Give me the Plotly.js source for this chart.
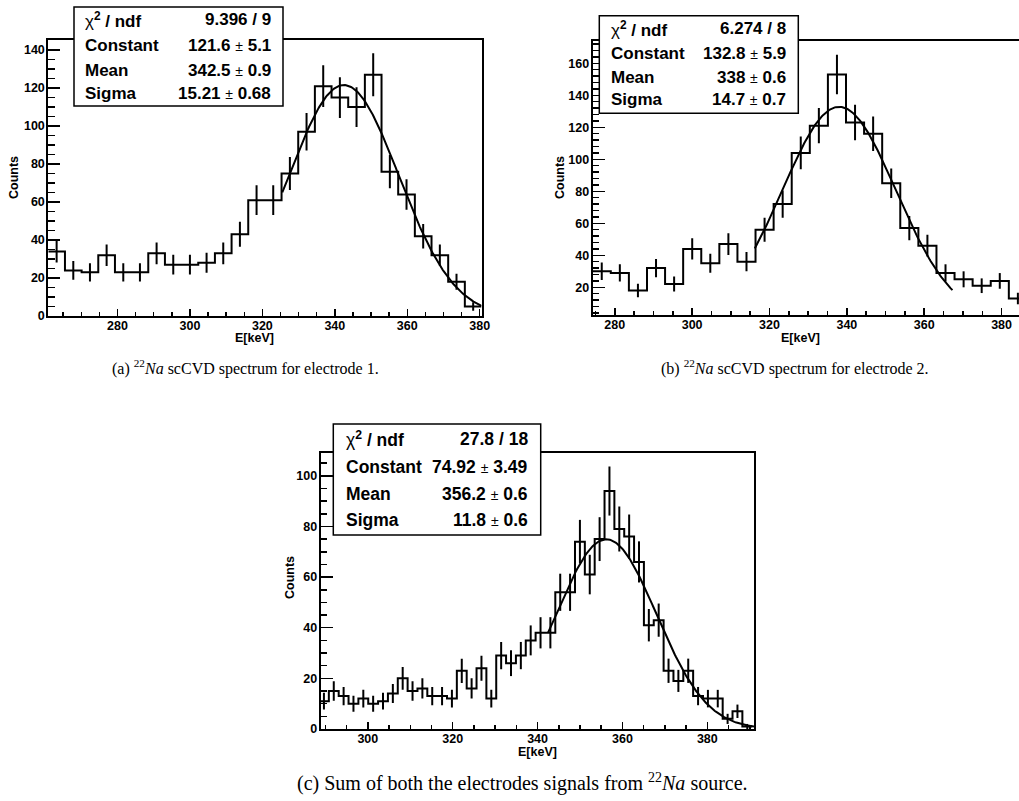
<!DOCTYPE html>
<html>
<head>
<meta charset="utf-8">
<script src="https://cdn.plot.ly/plotly-3.0.1.min.js"></script>
<style>html,body{margin:0;padding:0;background:#fff;}#chart{width:1019px;height:801px;}</style>
</head>
<body>
<div id="chart"></div>
<script>
// ---------------- data ----------------
// Panel (a): electrode 1
const binStartA = 260.9, binWidthA = 4.6;
const countsA = [34,24,23,32,23,23,33,27,27,28,33,43,61,61,75,97,121,115,110,127,76,64,42,32,18,5];
const fitA = {constant:121.6, mean:342.5, sigma:15.21, from:325.5, to:380.5};
const statsA = [["χ² / ndf","9.396 / 9"],["Constant","121.6 ± 5.1"],["Mean","342.5 ± 0.9"],["Sigma","15.21 ± 0.68"]];

// Panel (b): electrode 2
const binStartB = 274.3, binWidthB = 4.677;
const countsB = [30,29,18,32,22,44,35,47,36,56,72,104,121,153,123,116,85,57,46,29,25,21,24,13];
const fitB = {constant:132.8, mean:338, sigma:14.7, from:316.2, to:367.3};
const statsB = [["χ² / ndf","6.274 / 8"],["Constant","132.8 ± 5.9"],["Mean","338 ± 0.6"],["Sigma","14.7 ± 0.7"]];

// Panel (c): sum of both electrodes
const binStartC = 288.5, binWidthC = 2.32;
const countsC = [11,15,13,10,12,10,11,14,20,15,16,13,13,12,23,16,24,12,29,26,29,35,38,38,54,54,74,61,75,94,79,76,66,41,43,23,19,23,13,12,12,4,7,1];
const fitC = {constant:74.92, mean:356.2, sigma:11.8, from:342.5, to:391.0};
const statsC = [["χ² / ndf","27.8 / 18"],["Constant","74.92 ± 3.49"],["Mean","356.2 ± 0.6"],["Sigma","11.8 ± 0.6"]];

const captions = [
  "(a) <sup>22</sup><i>Na</i> scCVD spectrum for electrode 1.",
  "(b) <sup>22</sup><i>Na</i> scCVD spectrum for electrode 2.",
  "(c) Sum of both the electrodes signals from <sup>22</sup><i>Na</i> source."
];
const xTitle = "E[keV]", yTitle = "Counts";

// ---------------- helpers ----------------
const W = 1019, H = 801;
const px = p => p / W;
const py = p => 1 - p / H;
const SANS = "Liberation Sans, Arial, Helvetica, sans-serif";
const SERIF = "Liberation Serif, Times New Roman, serif";

function stepTrace(start, width, counts, xa, ya) {
  const xs = [], ys = [];
  for (let i = 0; i <= counts.length; i++) {
    xs.push(start + i * width);
    ys.push(counts[Math.min(i, counts.length - 1)]);
  }
  return {x: xs, y: ys, xaxis: xa, yaxis: ya, type: 'scatter', mode: 'lines',
          line: {shape: 'hv', color: 'black', width: 2}, hoverinfo: 'skip'};
}
function errTrace(start, width, counts, xa, ya) {
  return {x: counts.map((c, i) => start + (i + 0.5) * width), y: counts,
          xaxis: xa, yaxis: ya, type: 'scatter', mode: 'markers',
          marker: {size: 1, color: 'rgba(0,0,0,0)'},
          error_y: {type: 'sqrt', width: 0, thickness: 2, color: 'black'}, hoverinfo: 'skip'};
}
function fitTrace(f, xa, ya) {
  const xs = [], ys = [];
  const n = 200;
  for (let i = 0; i <= n; i++) {
    const x = f.from + (f.to - f.from) * i / n;
    xs.push(x);
    ys.push(f.constant * Math.exp(-0.5 * Math.pow((x - f.mean) / f.sigma, 2)));
  }
  return {x: xs, y: ys, xaxis: xa, yaxis: ya, type: 'scatter', mode: 'lines',
          line: {color: 'black', width: 2}, hoverinfo: 'skip'};
}
function axis(range, domain, anchor, ticklen, minorDtick, minorLen, standoff) {
  return {
    range: range, domain: domain, anchor: anchor,
    showgrid: false, zeroline: false, showline: true, mirror: true,
    linecolor: 'black', linewidth: 2,
    ticks: 'inside', ticklen: ticklen, tickwidth: 1.5, tickcolor: 'black',
    dtick: 20, tick0: 0, ticklabelstandoff: standoff || 0,
    tickfont: {family: SANS, size: 12.5, color: 'black', weight: 'bold'},
    minor: {dtick: minorDtick, ticks: 'inside', ticklen: minorLen, tickwidth: 1.5, tickcolor: 'black', showgrid: false},
    fixedrange: true
  };
}

const traces = [
  stepTrace(binStartA, binWidthA, countsA, 'x', 'y'),
  errTrace(binStartA, binWidthA, countsA, 'x', 'y'),
  fitTrace(fitA, 'x', 'y'),
  stepTrace(binStartB, binWidthB, countsB, 'x2', 'y2'),
  errTrace(binStartB, binWidthB, countsB, 'x2', 'y2'),
  fitTrace(fitB, 'x2', 'y2'),
  stepTrace(binStartC, binWidthC, countsC, 'x3', 'y3'),
  errTrace(binStartC, binWidthC, countsC, 'x3', 'y3'),
  fitTrace(fitC, 'x3', 'y3')
];

// panel geometry (pixels)
const P = {
  a: {l: 48.3, r: 481.5, t: 40, b: 316},
  b: {l: 592.7, r: 1019, t: 40.7, b: 315},
  c: {l: 320.7, r: 754, t: 453.3, b: 729}
};

const layout = {
  width: W, height: H, margin: {l: 0, r: 0, t: 0, b: 0},
  paper_bgcolor: 'white', plot_bgcolor: 'white', showlegend: false,
  font: {family: SANS, color: 'black'},
  xaxis:  axis([260.9, 380.5], [px(P.a.l), px(P.a.r)], 'y', 7, 5, 4, -3),
  yaxis:  axis([0, 145.3], [py(P.a.b), py(P.a.t)], 'x', 12, 5, 7, -1),
  xaxis2: axis([274.3, 384.5], [px(P.b.l), 1], 'y2', 7, 5, 4, -3),
  yaxis2: axis([2.7, 174.1], [py(P.b.b), py(P.b.t)], 'x2', 12, 4, 6, -1),
  xaxis3: axis([288.9, 391.0], [px(P.c.l), px(P.c.r)], 'y3', 7, 5, 4, -3),
  yaxis3: axis([0, 108.9], [py(P.c.b), py(P.c.t)], 'x3', 12, 5, 6, -1),
  shapes: [], annotations: []
};

function fmtRight(s) {
  return s.replace('±', '<span style="font-size:14px;font-weight:normal">±</span>');
}
function fmtLeft(s) {
  return s.replace('χ²', '<span style="font-weight:normal">χ</span><sup>2</sup>');
}
function statsBox(stats, box, rows, xl, xr, size) {
  layout.shapes.push({type: 'rect', xref: 'paper', yref: 'paper', layer: 'above',
    x0: px(box[0]), x1: px(box[1]), y0: py(box[3]), y1: py(box[2]),
    fillcolor: 'white', line: {color: 'black', width: 1.5}});
  stats.forEach((r, i) => {
    layout.annotations.push({xref: 'paper', yref: 'paper', x: px(xl), y: py(rows[i]),
      xanchor: 'left', yanchor: 'middle', showarrow: false, text: fmtLeft(r[0]),
      font: {family: SANS, size: size, color: 'black', weight: 'bold'}});
    layout.annotations.push({xref: 'paper', yref: 'paper', x: px(xr), y: py(rows[i]),
      xanchor: 'right', yanchor: 'middle', showarrow: false, text: fmtRight(r[1]),
      font: {family: SANS, size: size, color: 'black', weight: 'bold'}});
  });
}
statsBox(statsA, [74, 283, 7, 106], [20, 45, 70, 93.5], 83, 273, 17);
statsBox(statsB, [599.3, 798.3, 15.7, 113.3], [29, 53.3, 77.3, 100], 609, 788, 17);
statsBox(statsC, [333.3, 540.7, 424, 535], [439.3, 466.7, 494.3, 520], 344, 530, 17.5);

function label(text, xp, yp, size, rot, family, weight) {
  layout.annotations.push({xref: 'paper', yref: 'paper', x: px(xp), y: py(yp),
    xanchor: 'center', yanchor: 'middle', showarrow: false, text: text, textangle: rot || 0,
    font: {family: family || SANS, size: size, color: 'black', weight: weight || 'bold'}});
}
label(xTitle, (P.a.l + P.a.r) / 2 - 10, 338, 12.5);
label(xTitle, 800, 338, 12.5);
label(xTitle, (P.c.l + P.c.r) / 2, 752, 12.5);
label(yTitle, 14, 178, 12.5, -90);
label(yTitle, 560, 178, 12.5, -90);
label(yTitle, 290, 578, 12.5, -90);
label(captions[0], 245, 367, 16, 0, SERIF, 'normal');
label(captions[1], 795, 367, 16, 0, SERIF, 'normal');
label(captions[2], 522, 782, 20, 0, SERIF, 'normal');

Plotly.newPlot('chart', traces, layout, {staticPlot: true, displayModeBar: false});
</script>
</body>
</html>
